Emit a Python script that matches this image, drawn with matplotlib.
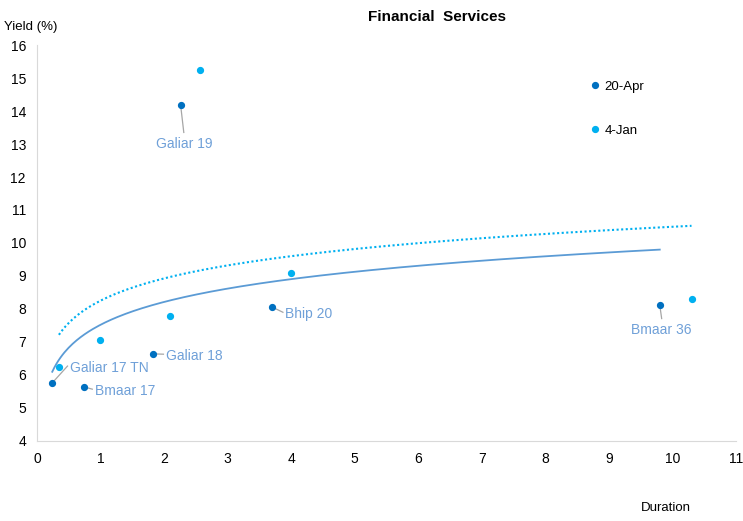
import numpy as np
import matplotlib
matplotlib.use("Agg")
import matplotlib.pyplot as plt

plt.rcParams['font.family'] = ['Liberation Sans', 'DejaVu Sans']

# 20-Apr bonds
apr_dur = [0.24, 0.74, 1.82, 2.26, 3.70, 9.80]
apr_yld = [5.76, 5.64, 6.64, 14.18, 8.06, 8.12]
# 4-Jan bonds
jan_dur = [0.345, 0.99, 2.10, 2.56, 3.99, 10.30]
jan_yld = [6.24, 7.06, 7.79, 15.24, 9.09, 8.30]

# labels for the 20-Apr points: (name, point index, text x, text y, ha)
labels = [
    ("Galiar 17 TN", 0, 0.52, 6.22, "left"),
    ("Bmaar 17", 1, 0.91, 5.52, "left"),
    ("Galiar 18", 2, 2.03, 6.58, "left"),
    ("Galiar 19", 3, 2.31, 13.0, "center"),
    ("Bhip 20", 4, 3.91, 7.85, "left"),
    ("Bmaar 36", 5, 9.83, 7.36, "center"),
]

c_apr = "#0070C0"
c_jan = "#00B0F0"
c_trend = "#5B9BD5"
c_lab = "#6FA0D8"

fig = plt.figure(figsize=(7.43, 5.21), dpi=100)
ax = fig.add_axes([0.0498, 0.1536, 0.9408, 0.76])

# log trendlines, like Excel
def logfit(x, y):
    x = np.array(x)
    b, a = np.polyfit(np.log(x), np.array(y), 1)
    xs = np.linspace(x.min(), x.max(), 300)
    return xs, a + b * np.log(xs)

xs, ys = logfit(apr_dur, apr_yld)
ax.plot(xs, ys, color=c_trend, lw=1.3)
xs, ys = logfit(jan_dur, jan_yld)
ax.plot(xs, ys, color=c_jan, lw=1.5, ls=(0, (1, 1.2)))

ax.plot(apr_dur, apr_yld, "o", color=c_apr, ms=4.2, label="20-Apr", zorder=3)
ax.plot(jan_dur, jan_yld, "o", color=c_jan, ms=4.2, label="4-Jan", zorder=3)

for name, i, tx, ty, ha in labels:
    px, py = apr_dur[i], apr_yld[i]
    if ha == "left":
        ex, ey = tx - 0.04, ty + 0.05
    else:
        ex, ey = tx, ty + 0.35
    ax.plot([px, ex], [py, ey], color="#A6A6A6", lw=0.9, zorder=2)
    ax.text(tx, ty, name, color=c_lab, fontsize=10, ha=ha, va="center")

ax.set_xlim(0, 11)
ax.set_ylim(4, 16)
ax.set_xticks(range(0, 12))
ax.set_yticks(range(4, 17))
for s in ["top", "right"]:
    ax.spines[s].set_visible(False)
for s in ["left", "bottom"]:
    ax.spines[s].set_color("#D9D9D9")
ax.tick_params(length=0, labelsize=10, pad=8)

leg = ax.legend(loc="upper left", bbox_to_anchor=(0.763, 0.94), frameon=False,
                handletextpad=-0.3, labelspacing=2.4, fontsize=9.5, markerscale=1)

fig.text(31 / 743, 1 - 27 / 521, "Yield (%)", fontsize=9.5, ha="center", va="center")
fig.text(666 / 743, 1 - 508 / 521, "Duration", fontsize=9.5, ha="center", va="center")
fig.text(437 / 743, 1 - 17 / 521, "Financial  Services", fontsize=11,
         fontweight="bold", ha="center", va="center")

fig.savefig("out.png", dpi=100)
